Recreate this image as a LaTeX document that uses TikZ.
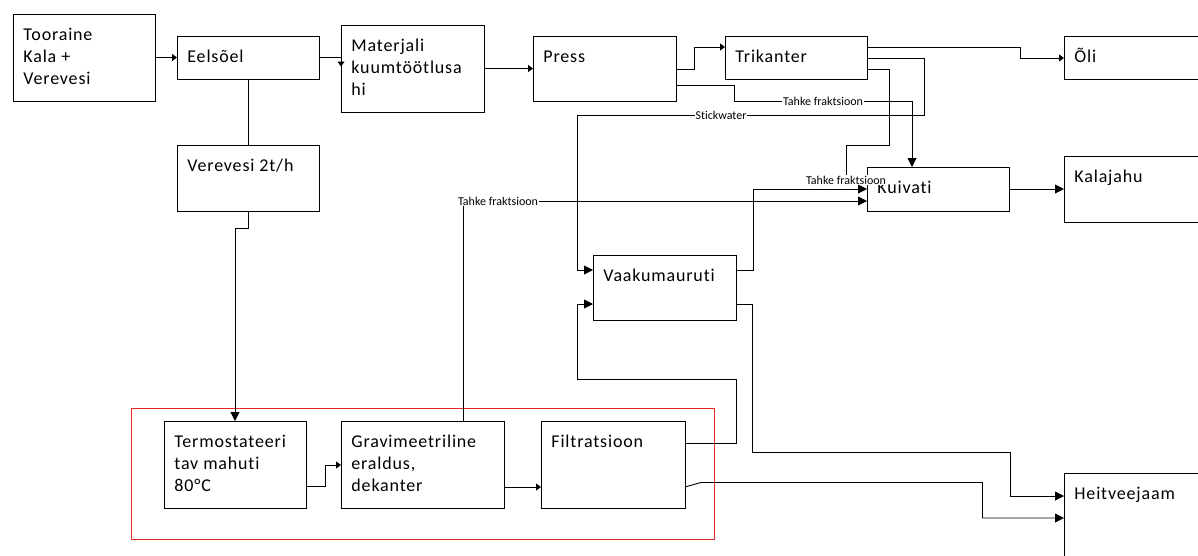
\documentclass[tikz,border=0pt]{standalone}
\usepackage{fontspec}
\setmainfont{Carlito}[LetterSpace=4.6,Ligatures={NoCommon,NoRare,NoContextual},RawFeature=-calt]
\newfontfamily\smallfont{Carlito}[Ligatures={NoCommon,NoRare,NoContextual}]
\usetikzlibrary{arrows.meta,calc}
\definecolor{grpred}{RGB}{232,40,40}
\newcommand\blk[6]{%
  \node[box, minimum width={#4-#2}, minimum height={#5-#3}] (#1) at (#2,#3) {};
  \node[txt] (#1-t) at ([xshift=10pt, yshift=-12pt]#1.north west) {\rule{0pt}{14pt}#6};}
\begin{document}
\begin{tikzpicture}[x=1pt,y=-1pt, line width=0.9pt,
  box/.style={draw, line width=1pt, anchor=north west, inner sep=0pt, outer sep=0pt},
  txt/.style={anchor=north west, inner sep=0pt, align=left, font=\fontsize{18}{22}\selectfont},
  lbl/.style={fill=white, inner sep=0.6pt, font=\smallfont\fontsize{12}{13}\selectfont},
  arr/.style={-{Triangle[length=9pt,width=9pt]}},
  sarr/.style={-{Triangle[length=5pt,width=7pt]}}]
\useasboundingbox (0,0) rectangle (1198,555);
\clip (0,0) rectangle (1198,555);
\node[draw=grpred, line width=1pt, anchor=north west, inner sep=0pt, minimum width=583pt, minimum height=131pt] (grp) at (131,408) {};
\blk{toor}{13}{14}{155}{101}{Tooraine\\Kala +\\Verevesi}
\blk{eel}{177}{36}{319}{79}{Eelsõel}
\blk{mat}{341}{25}{484}{112}{Materjali\\kuumtöötlusa\\hi}
\blk{press}{533}{36}{676}{101}{Press}
\blk{trik}{725}{36}{867}{79}{Trikanter}
\blk{oli}{1064}{36}{1210}{79}{Õli}
\blk{kala}{1064}{156}{1210}{222}{Kalajahu}
\blk{kuiv}{867}{167}{1009}{211}{Kuivati}
\blk{vere}{177}{145}{319}{211}{Verevesi 2t/h}
\blk{vaaku}{593}{255}{736}{320}{Vaakumauruti}
\blk{heit}{1064}{473}{1210}{570}{Heitveejaam}
\blk{termo}{164}{421}{306}{508}{Termostateeri\\tav mahuti\\80°C}
\blk{grav}{341}{421}{504}{508}{Gravimeetriline\\eraldus,\\dekanter}
\blk{filt}{541}{421}{685}{508}{Filtratsioon}
% connectors
\draw[sarr] (toor.east |- eel.west) -- (eel.west);
\draw[sarr] (eel.east) -- (mat.west |- eel.east) -- ($(mat.west |- eel.east)+(0,9)$);
\draw (eel.south) -- (vere.north);
\draw[sarr] (mat.east |- press.west) -- (press.west);
\draw[sarr] (press.east |- 0,69) -- (694,69) -- (694,47) -- (trik.west |- 0,47);
\draw[arr] (press.east |- 0,85) -- (734,85) -- (734,101) -- (912,101) -- (912,0 |- kuiv.north);
\node[lbl] (l1) at (823,101) {Tahke fraktsioon};
\draw[sarr] (trik.east |- 0,47) -- (1020,47) -- (1020,58) -- (oli.west |- 0,58);
\draw[arr] (trik.east |- 0,58) -- (924,58) -- (924,115) -- (577,115) -- (577,270) -- (vaaku.west |- 0,270);
\node[lbl] (l2) at (721,115) {Stickwater};
\draw[arr] (vaaku.east |- 0,270) -- (753,270) -- (753,189) -- (kuiv.west |- 0,189);
\draw[arr] (463,0 |- grav.north) -- (463,201) -- (kuiv.west |- 0,201);
\node[lbl] (l4) at (498,201) {Tahke fraktsioon};
\draw (trik.east |- 0,69) -- (889,69) -- (889,145) -- (846,145) -- (846,180);
\node[lbl] (l3) at (846,180) {Tahke fraktsioon};
\draw[arr] (kuiv.east) -- (kala.west |- kuiv.east);
\draw[arr] (vere.south) -- (248,228) -- (235,228) -- (termo.north);
\draw[sarr] (termo.east |- 0,486) -- (325,486) -- (325,465) -- (grav.west |- 0,465);
\draw[sarr] (grav.east |- 0,487) -- (filt.west |- 0,487);
\draw[arr] (filt.east |- 0,443) -- (736,443) -- (736,379) -- (577,379) -- (577,304) -- (vaaku.west |- 0,304);
\draw[arr] (vaaku.east |- 0,304) -- (752,304) -- (752,452) -- (1010,452) -- (1010,496) -- (heit.west |- 0,496);
\draw[arr] (filt.east |- 0,487) -- (701,482.5) -- (982.5,482.5) -- (982.5,518) -- (heit.west |- 0,518);
\end{tikzpicture}
\end{document}
